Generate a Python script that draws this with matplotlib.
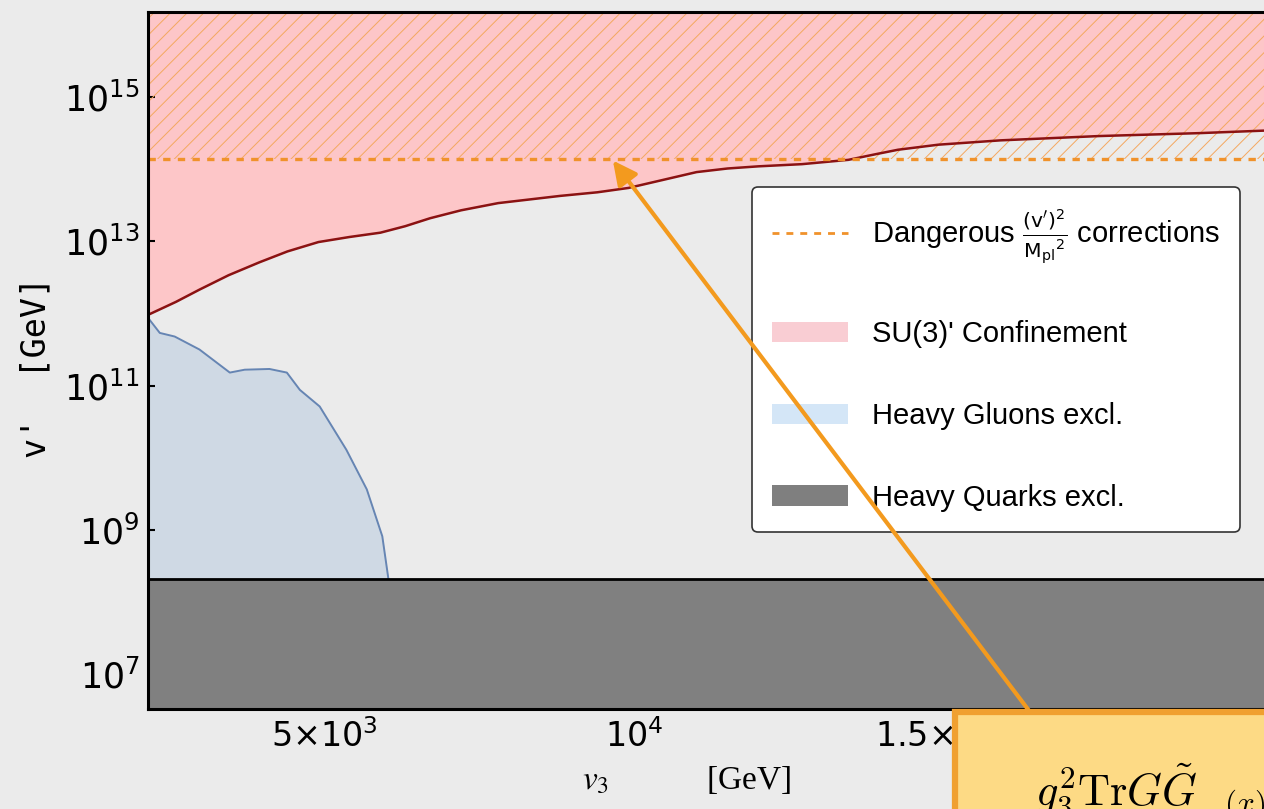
import numpy as np
import matplotlib
matplotlib.use("Agg")
import matplotlib.pyplot as plt
from matplotlib.patches import Patch, Rectangle
from matplotlib.lines import Line2D
from matplotlib.ticker import FixedLocator, FixedFormatter, NullLocator


plt.rcParams["mathtext.fontset"] = "custom"
plt.rcParams["mathtext.rm"] = "DejaVu Sans Mono"
plt.rcParams["mathtext.it"] = "DejaVu Sans Mono:italic"
plt.rcParams["mathtext.bf"] = "DejaVu Sans Mono:bold"
plt.rcParams["hatch.linewidth"] = 0.7

# --- data (v3 in GeV, log10 of v' in GeV)
V3_CONF = [2150, 2600, 2980, 3450, 3950, 4400, 4900, 5400, 5900, 6300, 6700,
           7200, 7800, 8300, 8800, 9400, 9900, 10500, 11000, 11500, 12000,
           12700, 13450, 13900, 14250, 14900, 15900, 17500, 19100, 20300]
LOG_VP_CONF = [11.98, 12.16, 12.33, 12.53, 12.71, 12.86, 12.99, 13.06, 13.12,
               13.21, 13.32, 13.43, 13.53, 13.58, 13.63, 13.68, 13.74, 13.86,
               13.96, 14.01, 14.04, 14.07, 14.13, 14.21, 14.27, 14.34, 14.40,
               14.46, 14.50, 14.54]

V3_GLUON = [2150, 2340, 2580, 2980, 3470, 3710, 4110, 4390, 4600, 4920,
            5350, 5680, 5930, 6030, 6040]
LOG_VP_GLUON = [11.94, 11.73, 11.68, 11.50, 11.18, 11.22, 11.23, 11.18,
                10.94, 10.71, 10.11, 9.56, 8.91, 8.31, 8.0]

VP_DANGER = 1.4e14
VP_QUARK = 2.1e8

X_TICKS = [5000, 10000, 15000, 20000]
X_TICK_LABELS = [r"$\mathregular{5{\times}10^{3}}$", r"$\mathregular{10^{4}}$",
                 r"$\mathregular{1.5{\times}10^{4}}$",
                 r"$\mathregular{2{\times}10^{4}}$"]
Y_TICKS = [1e7, 1e9, 1e11, 1e13, 1e15]
Y_TICK_LABELS = [r"$\mathregular{10^{7}}$", r"$\mathregular{10^{9}}$",
                 r"$\mathregular{10^{11}}$", r"$\mathregular{10^{13}}$",
                 r"$\mathregular{10^{15}}$"]

LEGEND_LABELS = [
    r"Dangerous $\frac{(\mathrm{v}')^2}{\mathrm{M_{pl}}^2}$ corrections",
    "SU(3)' Confinement",
    "Heavy Gluons excl.",
    "Heavy Quarks excl.",
]

BG = "#ebebeb"
ORANGE = "#f0922b"
PINK = "#fdc6c8"
BLUE = "#cfd9e4"
BLUE_EDGE = "#6685b3"
DARK_RED = "#8b1212"
GREY = "#808080"

X_MIN, X_MAX = 2150, 22300
Y_MIN, Y_MAX = 10 ** 6.515, 10 ** 16.18


def main():
    W, H = 1264, 809
    fig = plt.figure(figsize=(W / 100, H / 100), dpi=100)
    fig.patch.set_facecolor(BG)

    # axes deliberately runs past the right edge of the figure
    ax = fig.add_axes([148 / W, (H - 709) / H, 1249 / W, 697 / H])
    ax.set_facecolor(BG)
    ax.set_yscale("log")
    ax.set_xlim(X_MIN, X_MAX)
    ax.set_ylim(Y_MIN, Y_MAX)

    v3c = np.array(V3_CONF)
    vpc = 10 ** np.array(LOG_VP_CONF)
    v3g = np.array(V3_GLUON)
    vpg = 10 ** np.array(LOG_VP_GLUON)

    # SU(3)' confinement
    ax.fill_between(v3c, vpc, Y_MAX, color=PINK, lw=0, zorder=1)
    ax.plot(v3c, vpc, color=DARK_RED, lw=1.8, zorder=3)

    # heavy gluons
    ax.fill_between(v3g, Y_MIN, vpg, color=BLUE, lw=0, zorder=1.5)
    ax.plot(v3g, vpg, color=BLUE_EDGE, lw=1.4, zorder=1.6)

    # dangerous corrections
    ax.axhspan(VP_DANGER, Y_MAX, facecolor="none", edgecolor="#f4a85f",
               hatch="//", lw=0, zorder=2)
    ax.axhline(VP_DANGER, color=ORANGE, lw=2.4, ls=(0, (2.2, 2.2)), zorder=3)

    # heavy quarks
    ax.axhspan(Y_MIN, VP_QUARK, facecolor=GREY, edgecolor="black", lw=2,
               zorder=4)

    ax.xaxis.set_major_locator(FixedLocator(X_TICKS))
    ax.xaxis.set_major_formatter(FixedFormatter(X_TICK_LABELS))
    ax.yaxis.set_major_locator(FixedLocator(Y_TICKS))
    ax.yaxis.set_major_formatter(FixedFormatter(Y_TICK_LABELS))
    ax.xaxis.set_minor_locator(NullLocator())
    ax.yaxis.set_minor_locator(NullLocator())
    ax.tick_params(direction="in", length=5, width=1.5, pad=7, colors="black",
                   top=False, right=False)
    ax.tick_params(axis="x", labelsize=24)
    ax.tick_params(axis="y", labelsize=25, pad=6)

    for spine in ax.spines.values():
        spine.set_linewidth(2.2)
        spine.set_color("black")
        spine.set_zorder(6)

    ax.set_xlabel(r"$v_3\qquad\qquad$[GeV]", fontsize=24,
                  family="Liberation Serif", math_fontfamily="stix")
    ax.xaxis.set_label_coords((687 - 148) / 1249, (709 - 764) / 697)
    ax.set_ylabel("v'  [GeV]", fontsize=24, family="DejaVu Sans Mono")
    ax.yaxis.set_label_coords((52 - 148) / 1249, (709 - 367) / 697)

    handles = [
        Line2D([], [], color=ORANGE, lw=2, ls=(0, (2.5, 2.5))),
        Patch(facecolor="#f9cdd3", edgecolor="none"),
        Patch(facecolor="#d4e6f7", edgecolor="none"),
        Patch(facecolor="#7f7f7f", edgecolor="none"),
    ]
    leg = ax.legend(
        handles,
        LEGEND_LABELS,
        loc="upper left",
        bbox_to_anchor=((752 - 148) / 1249, (709 - 187) / 697),
        borderaxespad=0,
        prop={"family": "Liberation Sans", "size": 21},
        borderpad=0.7,
        labelspacing=1.85,
        handlelength=2.6,
        handletextpad=0.8,
        fancybox=True,
        framealpha=1,
        facecolor="white",
        edgecolor="#333333",
    )
    leg.get_frame().set_linewidth(1.2)
    leg.set_zorder(8)
    for t in leg.get_texts():
        t.set_math_fontfamily("dejavusans")

    # arrow pointing at the dashed line
    ax.annotate(
        "",
        xy=(9650, 1.32e14),
        xycoords="data",
        xytext=(1030 / W, 1 - 712 / H),
        textcoords="figure fraction",
        arrowprops=dict(arrowstyle="-|>,head_length=0.9,head_width=0.45",
                        color="#f39a1e", lw=3, mutation_scale=16,
                        shrinkA=0, shrinkB=0),
        zorder=20,
        annotation_clip=False,
    )

    # yellow formula box, cut off by the figure edge
    fig.add_artist(Rectangle((955 / W, -0.2), 0.5, 0.2 + 1 - 712 / H,
                             transform=fig.transFigure, facecolor="#fdda85",
                             edgecolor="#f0a030", lw=4.5, zorder=15))
    fig.text(1035 / W, 1 - 806 / H, r"$g_3^2\mathrm{Tr}G\tilde{G}\ \ _{(x)}$",
             fontsize=32, math_fontfamily="cm", va="baseline", zorder=16)

    fig.savefig("out.png", dpi=100, facecolor=BG)
    plt.close(fig)


if __name__ == "__main__":
    main()
